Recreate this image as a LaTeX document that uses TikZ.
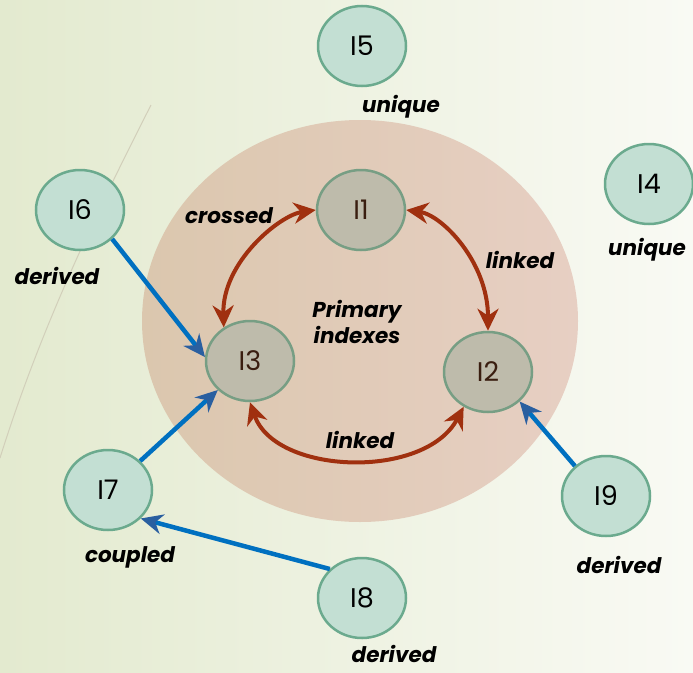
\documentclass[tikz,border=0pt]{standalone}
\usepackage{fontspec}
\setmainfont{Poppins}
\usetikzlibrary{arrows.meta,shapes.geometric}

\definecolor{bgLeft}{HTML}{E3EACF}
\definecolor{bgRight}{HTML}{F9FAF4}
\definecolor{zoneLeft}{HTML}{DBC7AE}
\definecolor{zoneRight}{HTML}{E7CFC3}
\definecolor{outerFill}{HTML}{C3DFD3}
\definecolor{outerLine}{HTML}{6BAA8E}
\definecolor{innerFill}{HTML}{BEBBAB}
\definecolor{innerLine}{HTML}{779E84}
\definecolor{linkRed}{HTML}{A0300F}
\definecolor{linkBlue}{HTML}{0070C0}
\definecolor{tipBlue}{HTML}{2A5FA0}
\definecolor{faintLine}{HTML}{D2CFBA}
\definecolor{innerText}{HTML}{3A1E10}

\tikzset{
  idx/.style={ellipse, minimum width=88pt, minimum height=80pt, line width=2.5pt,
              font=\fontsize{27}{30}\selectfont, inner sep=0pt},
  outeridx/.style={idx, draw=outerLine, fill=outerFill, text=black},
  inneridx/.style={idx, draw=innerLine, fill=innerFill, text=innerText},
  tag/.style={font=\fontsize{21.5}{26}\selectfont\bfseries\itshape, text=black, inner sep=0pt},
  redlink/.style={draw=linkRed, line width=4pt,
     {Stealth[length=22pt, width=21pt, inset=7pt]}-{Stealth[length=22pt, width=21pt, inset=7pt]}},
  bluelink/.style={draw=linkBlue, line width=4.5pt,
     -{Stealth[length=22pt, width=20pt, inset=7pt, color=tipBlue]}}
}

\begin{document}
\begin{tikzpicture}[x=1pt, y=-1pt]
  \useasboundingbox (0,0) rectangle (693,672);
  % background
  \shade[left color=bgLeft, right color=bgRight] (0,0) rectangle (693,672);
  \draw[faintLine, line width=1pt] (151,105) .. controls (95,215) and (40,330) .. (0,458);

  % primary zone
  \shade[left color=zoneLeft, right color=zoneRight] (360,321) ellipse [x radius=218, y radius=201];

  % primary indexes
  \node[inneridx] (I1) at (361,210) {I1};
  \node[inneridx] (I2) at (488,372) {I2};
  \node[inneridx] (I3) at (250,361) {I3};

  % other indexes
  \node[outeridx] (I4) at (649,184) {I4};
  \node[outeridx] (I5) at (362,46)  {I5};
  \node[outeridx] (I6) at (80,210)  {I6};
  \node[outeridx] (I7) at (108,490) {I7};
  \node[outeridx] (I8) at (362,598) {I8};
  \node[outeridx] (I9) at (606,496) {I9};

  % links between primary indexes
  \draw[redlink] (I1.west) .. controls (280,215) and (222,262) .. (I3.128);
  \draw[redlink] (I1.east) .. controls (442,215) and (488,262) .. (I2.north);
  \draw[redlink] (I3.south) .. controls (275,475) and (425,480) .. (I2.235);

  % derived / coupled links
  \draw[bluelink] (I6.-42) -- (I3.175);
  \draw[bluelink] (I7.42) -- (I3.222);
  \draw[bluelink] (I8.138) -- (I7.-41);
  \draw[bluelink] (I9.136) -- (I2.-43);

  % labels
  \node[tag] (tPrim) at (357,322) [align=center] {Primary\\indexes};
  \node[tag] (tCross) at (229,216) {crossed};
  \node[tag] (tLinkA) at (520,260) {linked};
  \node[tag] (tLinkB) at (360,440) {linked};
  \node[tag] (tU5) at (401,107) {unique};
  \node[tag] (tU4) at (647,250) {unique};
  \node[tag] (tD6) at (57,276) {derived};
  \node[tag] (tC7) at (130,557) {coupled};
  \node[tag] (tD9) at (619,565) {derived};
  \node[tag] (tD8) at (394,654) {derived};
\end{tikzpicture}
\end{document}
